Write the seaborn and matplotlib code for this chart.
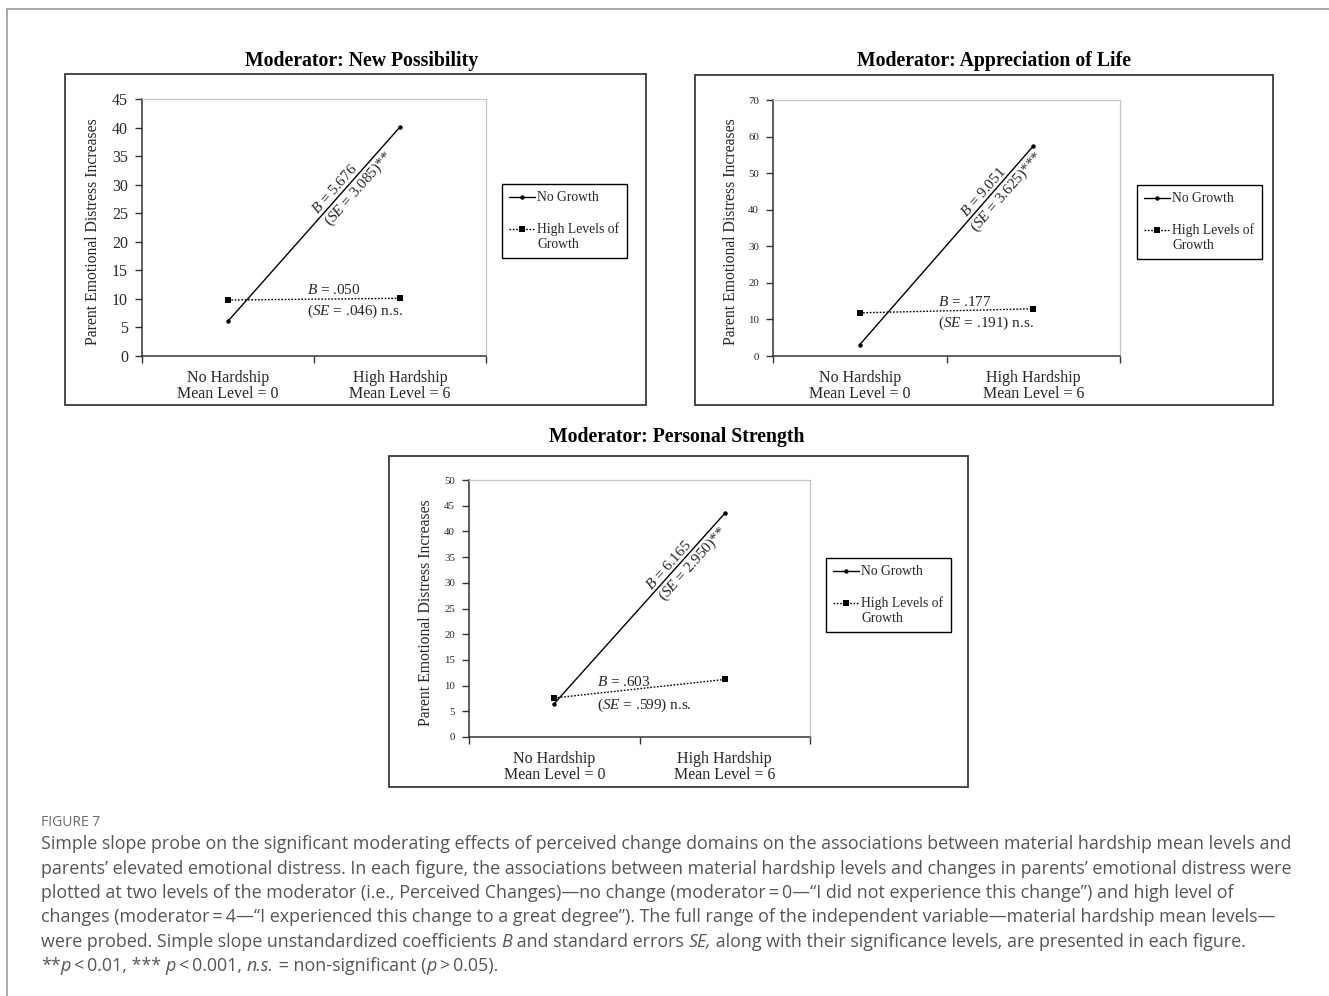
import math
import numpy as np
import pandas as pd
import matplotlib
matplotlib.use("Agg")
import matplotlib.pyplot as plt
import seaborn as sns
from matplotlib.patches import Rectangle
from matplotlib.lines import Line2D
from matplotlib.legend_handler import HandlerLine2D

# ---------------------------------------------------------------- data
categories = ["No Hardship\nMean Level = 0", "High Hardship\nMean Level = 6"]
groups = ["No Growth", "High Levels of\nGrowth"]

titles = ["Moderator: New Possibility",
          "Moderator: Appreciation of Life",
          "Moderator: Personal Strength"]

no_growth = [[6.1, 40.1], [3.1, 57.4], [6.5, 43.5]]
high_growth = [[9.8, 10.1], [11.8, 12.9], [7.6, 11.2]]

slope_b_steep = ["5.676", "9.051", "6.165"]
slope_se_steep = ["3.085", "3.625", "2.950"]
stars_steep = ["**", "***", "**"]
slope_b_flat = [".050", ".177", ".603"]
slope_se_flat = [".046", ".191", ".599"]

y_max = [45, 70, 50]
y_step = [5, 10, 5]

# ---------------------------------------------------------------- style
sns.set_style("ticks")
plt.rcParams["font.family"] = ["Liberation Serif", "DejaVu Serif"]
plt.rcParams["mathtext.fontset"] = "custom"
plt.rcParams["mathtext.rm"] = "Liberation Serif"
plt.rcParams["mathtext.it"] = "Liberation Serif:italic"
plt.rcParams["mathtext.bf"] = "Liberation Serif:bold"

W, H = 1329, 996
fig = plt.figure(figsize=(W / 100, H / 100), dpi=100)
fig.patch.set_facecolor("white")


def fbox(l, t, r, b):
    """pixel box (left, top, right, bottom) -> figure fraction rect"""
    return [l / W, 1 - b / H, (r - l) / W, (b - t) / H]


def fpt(x, y):
    return x / W, 1 - y / H


class FirstLineHandler(HandlerLine2D):
    """Legend handle lifted to sit beside the first line of a two-line label."""

    def __init__(self, lift=0.0, **kw):
        super().__init__(**kw)
        self.lift = lift

    def create_artists(self, legend, orig_handle, xdescent, ydescent,
                       width, height, fontsize, trans):
        arts = super().create_artists(legend, orig_handle, xdescent, ydescent,
                                      width, height, fontsize, trans)
        for a in arts:
            a.set_ydata(np.asarray(a.get_ydata(), dtype=float) + self.lift * fontsize)
        return arts


# page edge lines
fig.add_artist(Line2D([7 / W, 1.0], [1 - 9 / H, 1 - 9 / H], color="#9a9a9a", lw=1.2))
fig.add_artist(Line2D([7 / W, 7 / W], [1 - 9 / H, 0.0], color="#9a9a9a", lw=1.2))

panels = [
    dict(box=(65, 74, 646, 405), ax=(142, 99, 486, 356), title=(362, 61),
         ylab_x=93, legend=(502, 184), tick_fs=11.5, steep_t=(0.655, 0.715),
         flat_x=0.459, flat_lift=1.5),
    dict(box=(695, 75, 1273, 405), ax=(773, 100, 1120, 356), title=(994, 61),
         ylab_x=731, legend=(1137, 185), tick_fs=7.8, steep_t=(0.745, 0.804),
         flat_x=0.451, flat_lift=1.5),
    dict(box=(389, 456, 968, 787), ax=(469, 480, 810, 737), title=(677, 437),
         ylab_x=426, legend=(826, 558), tick_fs=7.8, steep_t=(0.703, 0.767),
         flat_x=0.25, flat_lift=3.0),
]

for i, p in enumerate(panels):
    l, t, r, b = p["box"]
    fig.add_artist(Rectangle((l / W, 1 - b / H), (r - l) / W, (b - t) / H,
                             transform=fig.transFigure, fill=False,
                             edgecolor="#3a3a3a", lw=1.3))
    fig.text(*fpt(*p["title"]), titles[i], ha="center", va="center",
             fontsize=14.2, fontweight="bold", color="black")

    ax = fig.add_axes(fbox(*p["ax"]))
    df = pd.DataFrame({
        "pos": [0, 1, 0, 1],
        "distress": no_growth[i] + high_growth[i],
        "group": [groups[0]] * 2 + [groups[1]] * 2,
    })
    sns.lineplot(data=df[df.group == groups[0]], x="pos", y="distress",
                 color="black", lw=1.0, marker="o", markersize=3.2,
                 markeredgewidth=0, ax=ax, label=groups[0])
    sns.lineplot(data=df[df.group == groups[1]], x="pos", y="distress",
                 color="black", lw=1.0, linestyle=(0, (1.2, 1.2)), marker="s",
                 markersize=4.5, markeredgewidth=0, ax=ax, label=groups[1])

    ax.set_xlim(-0.5, 1.5)
    ax.set_ylim(0, y_max[i])
    ax.set_yticks(np.arange(0, y_max[i] + 1, y_step[i]))
    ax.set_xticks([-0.5, 0.5, 1.5])
    ax.set_xticklabels([])
    ax.set_xticks([0, 1], minor=True)
    ax.set_xticklabels(categories, minor=True)
    ax.tick_params(axis="x", which="major", direction="out", length=5,
                   width=1, color="#333333")
    ax.tick_params(axis="x", which="minor", length=0, pad=10,
                   labelsize=11.5)
    ax.tick_params(axis="y", direction="out", length=5, width=1,
                   color="#333333", pad=5, labelsize=p["tick_fs"])
    for lab in ax.get_xticklabels(minor=True):
        lab.set_linespacing(1.05)
    ax.set_xlabel("")
    ax.set_ylabel("")
    for s in ("left", "bottom"):
        ax.spines[s].set_color("#333333")
        ax.spines[s].set_linewidth(1.1)
    for s in ("top", "right"):
        ax.spines[s].set_color("#c4c4c4")
        ax.spines[s].set_linewidth(0.9)
    ax.set_facecolor("white")

    fig.text(*fpt(p["ylab_x"], (p["ax"][1] + p["ax"][3]) / 2 + 4),
             "Parent Emotional Distress Increases", rotation=90,
             ha="center", va="center", fontsize=11.3)

    # steep slope annotations, rotated along the line
    y0, y1 = no_growth[i]
    p0 = ax.transData.transform((0, y0))
    p1 = ax.transData.transform((1, y1))
    theta = math.atan2(p1[1] - p0[1], p1[0] - p0[0])
    ang = math.degrees(theta)
    nx, ny = -math.sin(theta), math.cos(theta)
    tb, ts = p["steep_t"]
    ax.annotate(r"$\mathit{B}$ = " + slope_b_steep[i],
                xy=(tb, y0 + (y1 - y0) * tb),
                xytext=(nx * 0.3, ny * 0.3), textcoords="offset points",
                rotation=ang, rotation_mode="anchor", ha="center",
                va="bottom", fontsize=11)
    ax.annotate(r"($\mathit{SE}$ = " + slope_se_steep[i] + ")" + stars_steep[i],
                xy=(ts, y0 + (y1 - y0) * ts),
                xytext=(-nx * 1.0, -ny * 1.0), textcoords="offset points",
                rotation=ang, rotation_mode="anchor", ha="center",
                va="top", fontsize=11)

    # flat slope annotations
    h0, h1 = high_growth[i]
    fx = p["flat_x"]
    fy = h0 + (h1 - h0) * fx
    ax.annotate(r"$\mathit{B}$ = " + slope_b_flat[i], xy=(fx, fy),
                xytext=(0, p["flat_lift"]), textcoords="offset points",
                ha="left", va="bottom", fontsize=11)
    ax.annotate(r"($\mathit{SE}$ = " + slope_se_flat[i] + ") n.s.", xy=(fx, fy),
                xytext=(0, -2.5), textcoords="offset points",
                ha="left", va="top", fontsize=11)

    lx, ly = p["legend"]
    handles, labels = ax.get_legend_handles_labels()
    leg = ax.legend(handles, labels, loc="upper left",
                    bbox_to_anchor=fpt(lx, ly),
                    bbox_transform=fig.transFigure, borderaxespad=0,
                    frameon=True, fancybox=False, framealpha=1,
                    edgecolor="black", fontsize=9.8, handlelength=1.9,
                    handletextpad=0.15, labelspacing=1.3, borderpad=0.55,
                    handler_map={handles[1]: FirstLineHandler(lift=0.55)})
    leg.get_frame().set_linewidth(1.0)

# ---------------------------------------------------------------- caption
cap_family = ["Open Sans", "DejaVu Sans"]
cap_color = "#555555"
renderer = fig.canvas.get_renderer()

caption_lines = [
    [("Simple slope probe on the significant moderating effects of perceived change domains on the associations between material hardship mean levels and", False)],
    [("parents\u2019 elevated emotional distress. In each figure, the associations between material hardship levels and changes in parents\u2019 emotional distress were", False)],
    [("plotted at two levels of the moderator (i.e., Perceived Changes)\u2014no change (moderator\u2009=\u20090\u2014\u201cI did not experience this change\u201d) and high level of", False)],
    [("changes (moderator\u2009=\u20094\u2014\u201cI experienced this change to a great degree\u201d). The full range of the independent variable\u2014material hardship mean levels\u2014", False)],
    [("were probed. Simple slope unstandardized coefficients ", False), ("B", True),
     (" and standard errors ", False), ("SE,", True),
     (" along with their significance levels, are presented in each figure.", False)],
    [("**", False), ("p", True), ("\u2009<\u20090.01, *** ", False), ("p", True),
     ("\u2009<\u20090.001, ", False), ("n.s.", True),
     (" = non-significant (", False), ("p", True), ("\u2009>\u20090.05).", False)],
]


def seg_width(txt, ital, size):
    probe = fig.text(0, 0, "|" + txt + "|", fontsize=size, family=cap_family,
                     fontstyle="italic" if ital else "normal")
    w_full = probe.get_window_extent(renderer).width
    probe.set_text("||")
    w_bars = probe.get_window_extent(renderer).width
    probe.remove()
    return w_full - w_bars


base = 11.5
w1 = seg_width(caption_lines[0][0][0], False, base)
cap_size = base * 1254 / w1

fig.text(*fpt(41, 826), "FIGURE 7", fontsize=cap_size * 0.78,
         family=cap_family, color="#6a6a6a", va="baseline", ha="left")

baselines = [849, 873.5, 898, 922, 946.5, 971]
for segs, yb in zip(caption_lines, baselines):
    x = 41.0
    for txt, ital in segs:
        fig.text(*fpt(x, yb), txt, fontsize=cap_size, family=cap_family,
                 fontstyle="italic" if ital else "normal", color=cap_color,
                 va="baseline", ha="left")
        x += seg_width(txt, ital, cap_size)

fig.savefig("out.png", dpi=100, facecolor="white")
